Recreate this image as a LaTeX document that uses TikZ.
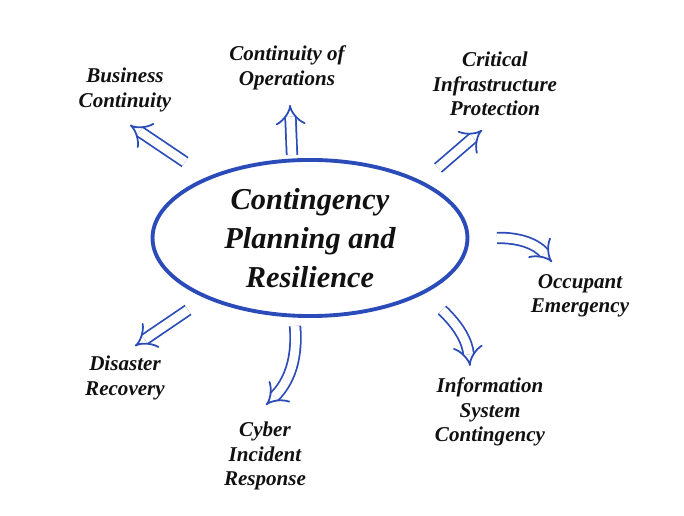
\documentclass[tikz,border=0pt]{standalone}
\usepackage{fontspec}
\setmainfont{Liberation Serif}
\usetikzlibrary{arrows.meta,positioning,shapes.geometric}
\definecolor{ink}{HTML}{111111}
\definecolor{accent}{HTML}{2A4BB8}
\tikzset{
  every node/.style={text=ink},
  topic/.style={font=\itshape\bfseries\large, align=center, inner sep=1pt},
  hub/.style={ellipse, draw=accent, line width=2.2pt, minimum width=6.3cm, minimum height=2.35cm,
    font=\itshape\bfseries\LARGE, align=center},
  hollow/.style={draw=accent, line width=1pt, double=white, double distance=5pt,
    -{Implies[length=7pt, width=14pt]}}
}
\begin{document}
\begin{tikzpicture}[x=0.02cm,y=-0.02cm]
  \useasboundingbox (0,0) rectangle (684,516);
  % Centre
  \node[hub] (hub) at (310,238) {Contingency\\Planning and\\Resilience};

  % Topics
  \node[topic] (bc) at (125,90) {Business\\Continuity};
  \node[topic] (coo) at (287,68) {Continuity of\\Operations};
  \node[topic] (cip) at (495,84) {Critical\\Infrastructure\\Protection};
  \node[topic] (oe) at (580,296) {Occupant\\Emergency};
  \node[topic] (isc) at (490,412) {Information\\System\\Contingency};
  \node[topic] (cir) at (265,456) {Cyber\\Incident\\Response};
  \node[topic] (dr) at (125,378) {Disaster\\Recovery};

  % Arrow ends
  \coordinate (bc0) at (185,162);  \coordinate (bc1) at (130,125);
  \coordinate (coo0) at (292,155); \coordinate (coo1) at (290,105);
  \coordinate (cip0) at (438,168); \coordinate (cip1) at (482,130);
  \coordinate (oe0) at (497,238);  \coordinate (oe1) at (552,262);
  \coordinate (isc0) at (442,310); \coordinate (isc1) at (470,366);
  \coordinate (cir0) at (295,326); \coordinate (cir1) at (266,405);
  \coordinate (dr0) at (188,310);  \coordinate (dr1) at (135,346);

  % Arrows
  \draw[hollow] (bc0) -- (bc1);
  \draw[hollow] (coo0) -- (coo1);
  \draw[hollow] (cip0) -- (cip1);
  \draw[hollow] (oe0) to[bend left=25] (oe1);
  \draw[hollow] (isc0) to[bend left=20] (isc1);
  \draw[hollow] (cir0) to[bend left=25] (cir1);
  \draw[hollow] (dr0) -- (dr1);
\end{tikzpicture}
\end{document}
